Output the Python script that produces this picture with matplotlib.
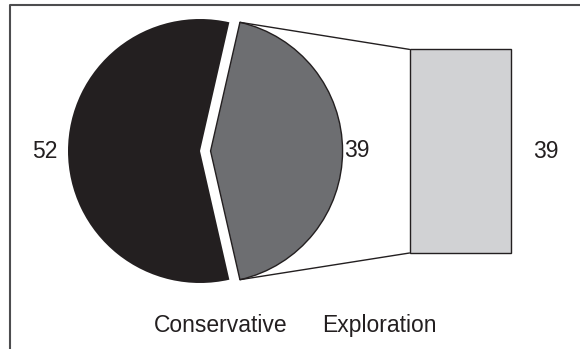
import matplotlib
matplotlib.use('Agg')
import matplotlib.pyplot as plt
from matplotlib.lines import Line2D
from matplotlib.patches import ConnectionPatch
import numpy as np

# datos
categorias = ['Conservative', 'Exploration']
valores = [52, 39]
barra_valor = 39
colores = ['#231f20', '#6d6e71']
color_barra = '#d1d2d4'

plt.rcParams['font.family'] = ['Liberation Sans', 'DejaVu Sans']
fs = 16.5

W, H = 580, 349
fig = plt.figure(figsize=(W / 100, H / 100), dpi=100)
fig.patch.set_facecolor('white')

# pie: centro en (200, 151) px desde arriba, radio 132 px
r_px = 132
cx, cy = 200, H - 151
lim = 1.25
ax1 = fig.add_axes([(cx - lim * r_px) / W, (cy - lim * r_px) / H,
                    2 * lim * r_px / W, 2 * lim * r_px / H])
# la porcion gris queda centrada a la derecha (0 grados)
inicio = valores[1] / sum(valores) * 180
wedges, textos = ax1.pie(valores, colors=colores, startangle=inicio,
                         explode=[0, 0.08], labels=[str(v) for v in valores],
                         labeldistance=1.05, textprops={'fontsize': fs, 'color': '#231f20'},
                         wedgeprops={'linewidth': 0})
wedges[1].set_edgecolor('#231f20')
wedges[1].set_linewidth(1.0)
ax1.set_xlim(-lim, lim)
ax1.set_ylim(-lim, lim)
ax1.set_aspect('equal')
ax1.axis('off')

# ajustar la distancia de las etiquetas
for w, t, d in zip(wedges, textos, [1.08, 1.01]):
    ang = np.deg2rad((w.theta1 + w.theta2) / 2)
    t.set_position((w.center[0] + d * np.cos(ang), w.center[1] + d * np.sin(ang)))
    t.set_va('center')

# barra
bx0, bx1 = 409.5, 510.5
by0, by1 = H - 253, H - 49.4
ax2 = fig.add_axes([bx0 / W, by0 / H, (bx1 - bx0) / W, (by1 - by0) / H])
barras = ax2.bar([0], [barra_valor], width=1, color=color_barra, edgecolor='#231f20', linewidth=1.0)
for b in barras:
    b.set_clip_on(False)
ax2.set_xlim(-0.5, 0.5)
ax2.set_ylim(0, barra_valor)
ax2.axis('off')
ax2.annotate(str(barra_valor), xy=(0.5, barra_valor / 2), xytext=(22.5, 0),
             textcoords='offset pixels', ha='left', va='center',
             fontsize=fs, color='#231f20', annotation_clip=False)

# lineas de conexion
w = wedges[1]
for th, yb in [(w.theta2, barra_valor), (w.theta1, 0)]:
    p = (w.center[0] + w.r * np.cos(np.deg2rad(th)), w.center[1] + w.r * np.sin(np.deg2rad(th)))
    con = ConnectionPatch(xyA=p, coordsA=ax1.transData, xyB=(-0.5, yb), coordsB=ax2.transData,
                          color='#231f20', linewidth=1.0)
    fig.add_artist(con)

# leyenda solo texto
leg = fig.legend(wedges, categorias, ncol=2, loc='center', bbox_to_anchor=(0.509, 0.067),
                 frameon=False, handlelength=0, handletextpad=0, columnspacing=1.5,
                 prop={'size': fs})
for h in leg.legend_handles:
    h.set_visible(False)
for t in leg.get_texts():
    t.set_color('#231f20')

# marco del area del grafico
fx = 10 / W
fy = 1 - 5 / H
fig.add_artist(Line2D([fx, fx, 1], [0, fy, fy], transform=fig.transFigure,
                      color='#4d4d4f', linewidth=1.5))

fig.savefig('out.png', dpi=100)
